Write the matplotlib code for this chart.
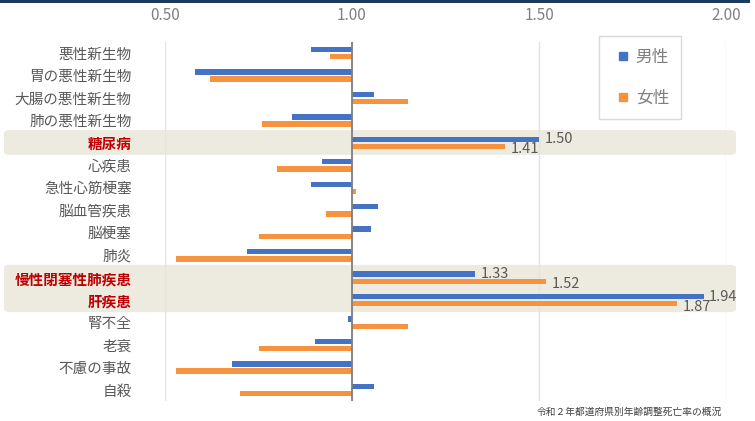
import numpy as np
import matplotlib
matplotlib.use('Agg')
import matplotlib.pyplot as plt
from matplotlib.patches import FancyBboxPatch, Rectangle
from matplotlib.lines import Line2D

plt.rcParams['font.family'] = ['Noto Sans CJK JP', 'DejaVu Sans']

# data (ratio vs national average)
causes = ['悪性新生物', '胃の悪性新生物', '大腸の悪性新生物', '肺の悪性新生物', '糖尿病',
          '心疾患', '急性心筋梗塞', '脳血管疾患', '脳梗塞', '肺炎',
          '慢性閉塞性肺疾患', '肝疾患', '腎不全', '老衰', '不慮の事故', '自殺']
male = [0.89, 0.58, 1.06, 0.84, 1.50, 0.92, 0.89, 1.07, 1.05, 0.72,
        1.33, 1.94, 0.99, 0.90, 0.68, 1.06]
female = [0.94, 0.62, 1.15, 0.76, 1.41, 0.80, 1.01, 0.93, 0.75, 0.53,
          1.52, 1.87, 1.15, 0.75, 0.53, 0.70]
highlight = ['糖尿病', '慢性閉塞性肺疾患', '肝疾患']
xticks = [0.5, 1.0, 1.5, 2.0]
source = '令和２年都道府県別年齢調整死亡率の概況'

blue = '#4472C4'
orange = '#F7923F'
gray = '#595959'

W, H = 755, 421
fig = plt.figure(figsize=(W / 100, H / 100), dpi=100)
ax = fig.add_axes([165 / W, (H - 401.3) / H, 561 / W, 359.5 / H])
ax.patch.set_visible(False)

y = np.arange(len(causes))
ax.barh(y - 0.16, np.array(male) - 1, left=1, height=0.24, color=blue, label='男性', zorder=3)
ax.barh(y + 0.16, np.array(female) - 1, left=1, height=0.24, color=orange, label='女性', zorder=3)

ax.set_xlim(0.5, 2.0)
ax.set_ylim(len(causes) - 0.5, -0.5)
ax.set_xticks(xticks)
ax.set_xticklabels(['%.2f' % t for t in xticks])
ax.xaxis.tick_top()
ax.tick_params(axis='x', length=0, pad=13, labelsize=11, labelcolor='#808080')
ax.set_yticks(y)
ax.set_yticklabels(causes)
ax.tick_params(axis='y', length=0, pad=24, labelsize=10.5, labelcolor=gray)
for lbl in ax.get_yticklabels():
    if lbl.get_text() in highlight:
        lbl.set_color('#C00000')
        lbl.set_fontweight('bold')
ax.grid(axis='x', color='#E3E3E3', linewidth=1, zorder=0)
ax.axvline(1.0, color='#808080', linewidth=1.3, zorder=4)
for s in ax.spines.values():
    s.set_visible(False)

# value labels for the highlighted rows
for i, c in enumerate(causes):
    if c in highlight:
        ax.annotate('%.2f' % male[i], (male[i], i - 0.16), xytext=(4, 0),
                    textcoords='offset points', va='center', fontsize=10.5, color=gray, zorder=5)
        ax.annotate('%.2f' % female[i], (female[i], i + 0.16), xytext=(4, -2),
                    textcoords='offset points', va='center', fontsize=10.5, color=gray, zorder=5)

# beige boxes behind highlighted rows
fig.canvas.draw()
inv = fig.transFigure.inverted()
for r0, r1 in [(4, 4), (10, 11)]:
    ytop = inv.transform(ax.transData.transform((1, r0 - 0.57)))[1]
    ybot = inv.transform(ax.transData.transform((1, r1 + 0.53)))[1]
    box = FancyBboxPatch((4 / W, ybot), 732 / W, ytop - ybot,
                         boxstyle='round,pad=0,rounding_size=0.007',
                         transform=fig.transFigure, facecolor='#EDEAE0',
                         edgecolor='none', zorder=-1)
    fig.patches.append(box)

# dark strip on top
fig.patches.append(Rectangle((0, 1 - 3 / H), 750 / W, 3 / H, transform=fig.transFigure,
                             facecolor='#1F3A5F', edgecolor='none'))

handles = [Line2D([], [], linestyle='none', marker='s', markersize=6, color=blue),
           Line2D([], [], linestyle='none', marker='s', markersize=6, color=orange)]
leg = fig.legend(handles, ['男性', '女性'], loc='upper left',
                 bbox_to_anchor=(599 / W, 1 - 36 / H), bbox_transform=fig.transFigure,
                 borderaxespad=0, fontsize=12, labelspacing=1.45, borderpad=0.75,
                 handlelength=1.4, handletextpad=0.05,
                 fancybox=False, edgecolor='#D9D9D9', framealpha=1)
leg.get_frame().set_linewidth(1)
for t in leg.get_texts():
    t.set_color('#7F7F7F')

fig.text(722 / W, 1 - 412 / H, source, ha='right', va='center', fontsize=7, color='#404040')

plt.savefig('out.png', dpi=100)
